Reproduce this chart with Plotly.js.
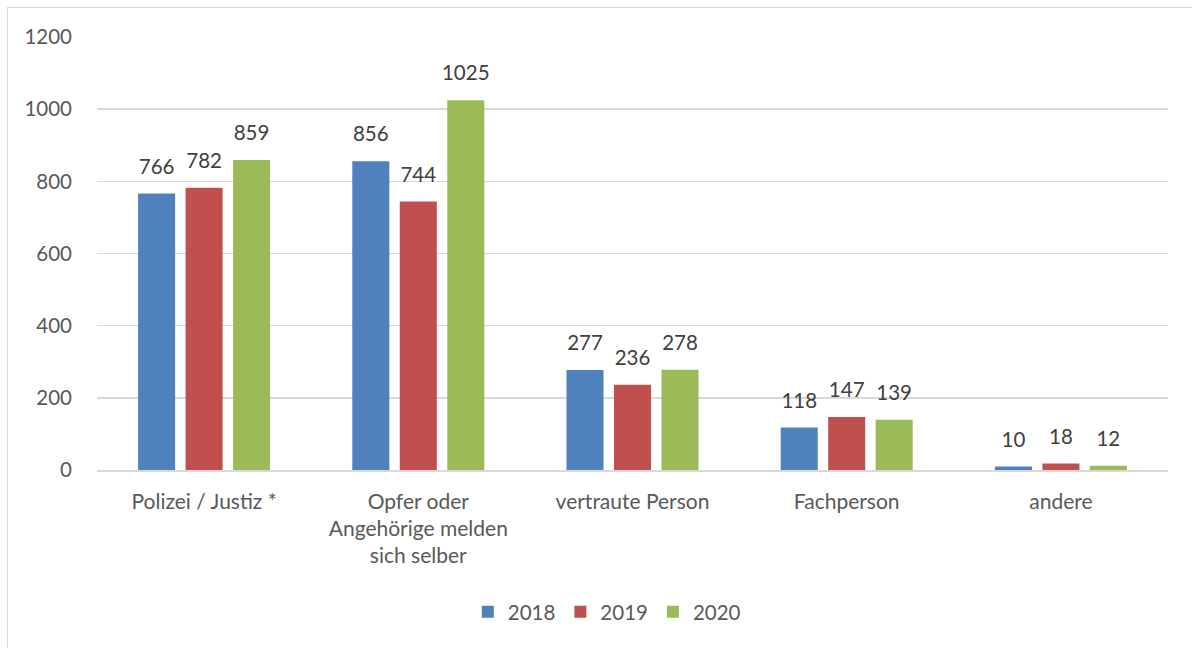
<!DOCTYPE html>
<html>
<head>
<meta charset="utf-8">
<script src="https://cdn.plot.ly/plotly-3.0.1.min.js"></script>
<style>
html,body{margin:0;padding:0;background:#fff;}
#wrap{position:relative;width:1192px;height:648px;overflow:hidden;}
#frame{position:absolute;left:7px;top:7px;width:1200px;height:660px;border:1.5px solid #d9d9d9;box-sizing:border-box;pointer-events:none;}
#chart{position:absolute;left:0;top:0;width:1192px;height:648px;}
</style>
</head>
<body>
<div id="wrap">
<div id="chart"></div>
<div id="frame"></div>
</div>
<script>
const categories = ["Polizei / Justiz *", "Opfer oder<br>Angehörige melden<br>sich selber", "vertraute Person", "Fachperson", "andere"];
const values2018 = [766, 856, 277, 118, 10];
const values2019 = [782, 744, 236, 147, 18];
const values2020 = [859, 1025, 278, 139, 12];
const seriesNames = ["2018", "2019", "2020"];
const yTicks = [0, 200, 400, 600, 800, 1000, 1200];

const colors = ["#4f81bd", "#c0504d", "#9bbb59"];
const allValues = [values2018, values2019, values2020];
const FONT = "Lato, 'Open Sans', sans-serif";

const barTraces = allValues.map((vals, i) => ({
  type: "bar",
  name: seriesNames[i],
  x: categories,
  y: vals,
  offsetgroup: "g" + i,
  marker: {color: colors[i]},
  hoverinfo: "skip"
}));

const labelTraces = allValues.map((vals, i) => ({
  type: "scatter",
  mode: "markers+text",
  x: categories,
  y: vals,
  offsetgroup: "g" + i,
  text: vals.map(String),
  textposition: "top center",
  marker: {size: 22, opacity: 0, color: colors[i]},
  textfont: {family: FONT, size: 20.5, color: "#404040"},
  cliponaxis: false,
  showlegend: false,
  hoverinfo: "skip"
}));

const layout = {
  width: 1192,
  height: 648,
  margin: {l: 97, r: 24, t: 37, b: 178},
  paper_bgcolor: "#ffffff",
  plot_bgcolor: "#ffffff",
  barmode: "group",
  scattermode: "group",
  bargap: 0.335,
  bargroupgap: 0.22,
  scattergap: 0.335,
  font: {family: FONT, size: 20, color: "#595959"},
  xaxis: {
    showgrid: false,
    showline: true,
    linecolor: "#d9d9d9",
    linewidth: 1.5,
    ticks: "",
    ticklabelstandoff: 12,
    tickfont: {size: 21, color: "#595959"},
    fixedrange: true
  },
  yaxis: {
    range: [0, 1200],
    tickvals: yTicks,
    ticktext: yTicks.map(String),
    showgrid: true,
    gridcolor: "#d9d9d9",
    gridwidth: 1.5,
    zeroline: false,
    showline: false,
    ticks: "",
    ticklabelstandoff: 24,
    tickfont: {size: 20.5, color: "#595959"},
    fixedrange: true
  },
  showlegend: true,
  legend: {
    orientation: "h",
    x: 0.476,
    xanchor: "center",
    y: -0.328,
    yanchor: "middle",
    font: {size: 20.5, color: "#595959"},
    traceorder: "normal",
    itemwidth: 30
  }
};

Plotly.newPlot("chart", barTraces.concat(labelTraces), layout, {displayModeBar: false, staticPlot: true});
</script>
</body>
</html>
